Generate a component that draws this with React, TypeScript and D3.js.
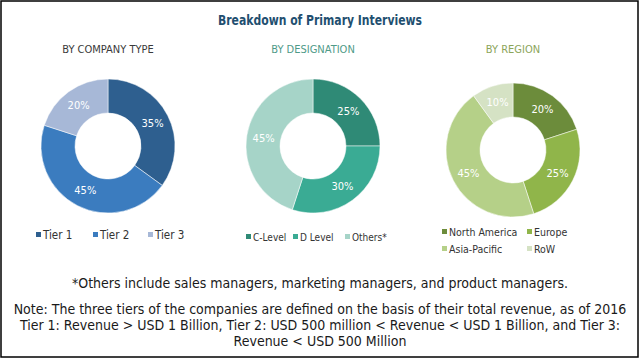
import React, { useRef, useEffect } from "react";
import * as d3 from "d3";

const companyLabels = ["Tier 1", "Tier 2", "Tier 3"];
const companyValues = [35, 45, 20];
const companyColors = ["#2e5f8f", "#3b7cbf", "#a7b8d7"];

const designationLabels = ["C-Level", "D Level", "Others*"];
const designationValues = [25, 30, 45];
const designationColors = ["#2f8a76", "#3aab94", "#a6d4c8"];

const regionLabels = ["North America", "Europe", "Asia-Pacific", "RoW"];
const regionValues = [20, 25, 45, 10];
const regionColors = ["#6c8c3b", "#90b54a", "#b5d088", "#d5e2c4"];

const title = "Breakdown of Primary Interviews";
const footnotes = [
  "*Others include sales managers, marketing managers, and product managers.",
  "Note: The three tiers of the companies are defined on the basis of their total revenue, as of 2016",
  "Tier 1: Revenue > USD 1 Billion, Tier 2: USD 500 million < Revenue < USD 1 Billion, and Tier 3:",
  "Revenue < USD 500 Million",
];

const narrow = "'DejaVu Sans Condensed', 'Liberation Sans Narrow', sans-serif";

const panels = [
  {
    heading: "BY COMPANY TYPE",
    headingColor: "#3a3a3a",
    cx: 108,
    cy: 146,
    labels: companyLabels,
    values: companyValues,
    colors: companyColors,
    legend: { y: 235, xs: [36, 93, 148], rows: [0, 0, 0], size: 11.5 },
  },
  {
    heading: "BY DESIGNATION",
    headingColor: "#4f9a88",
    cx: 313,
    cy: 146,
    labels: designationLabels,
    values: designationValues,
    colors: designationColors,
    legend: { y: 237, xs: [246, 293, 345], rows: [0, 0, 0], size: 10 },
  },
  {
    heading: "BY REGION",
    headingColor: "#8ca55a",
    cx: 513,
    cy: 150,
    labels: regionLabels,
    values: regionValues,
    colors: regionColors,
    legend: { y: 232, xs: [442, 527, 442, 527], rows: [0, 0, 1, 1], size: 10.5 },
  },
];

const App = () => {
  const svgRef = useRef(null);
  const width = 640;
  const height = 359;

  useEffect(() => {
    const svg = d3.select(svgRef.current);

    svg
      .append("rect")
      .attr("x", 1)
      .attr("y", 1)
      .attr("width", width - 3)
      .attr("height", height - 3)
      .attr("fill", "#fff")
      .attr("stroke", "#000")
      .attr("stroke-width", 1.5);

    svg
      .append("text")
      .attr("x", 320)
      .attr("y", 25)
      .attr("text-anchor", "middle")
      .attr("textLength", 204)
      .attr("lengthAdjust", "spacingAndGlyphs")
      .style("font-family", narrow)
      .style("font-weight", "bold")
      .style("font-size", "14px")
      .style("fill", "#1f4f70")
      .text(title);

    const pie = d3.pie().sort(null).value((d) => d);
    const arc = d3.arc().innerRadius(33).outerRadius(67);
    const labelArc = d3.arc().innerRadius(50).outerRadius(50);

    panels.forEach((p) => {
      svg
        .append("text")
        .attr("x", p.cx)
        .attr("y", 53)
        .attr("text-anchor", "middle")
        .style("font-family", narrow)
        .style("font-size", "11px")
        .style("fill", p.headingColor)
        .text(p.heading);

      const g = svg.append("g").attr("transform", `translate(${p.cx}, ${p.cy})`);
      const arcs = pie(p.values);

      g.selectAll("path")
        .data(arcs)
        .enter()
        .append("path")
        .attr("d", arc)
        .attr("fill", (d, i) => p.colors[i])
        .attr("stroke", "#fff")
        .attr("stroke-width", 0.5);

      g.selectAll("text")
        .data(arcs)
        .enter()
        .append("text")
        .attr("transform", (d) => `translate(${labelArc.centroid(d)})`)
        .attr("text-anchor", "middle")
        .attr("dy", "0.35em")
        .style("font-family", narrow)
        .style("font-size", "11px")
        .style("fill", "#fff")
        .text((d) => `${d.data}%`);

      p.labels.forEach((label, i) => {
        const y = p.legend.y + p.legend.rows[i] * 17;
        svg
          .append("rect")
          .attr("x", p.legend.xs[i])
          .attr("y", y - 3)
          .attr("width", 5)
          .attr("height", 5)
          .attr("fill", p.colors[i]);
        svg
          .append("text")
          .attr("x", p.legend.xs[i] + 7)
          .attr("y", y + 4)
          .style("font-family", narrow)
          .style("font-size", `${p.legend.size}px`)
          .style("fill", "#333")
          .text(label);
      });
    });

    footnotes.forEach((line, i) => {
      svg
        .append("text")
        .attr("x", 320)
        .attr("y", i === 0 ? 288 : 314 + (i - 1) * 16)
        .attr("text-anchor", "middle")
        .style("font-family", narrow)
        .style("font-size", "14px")
        .style("fill", "#1a1a1a")
        .text(line);
    });

    return () => svg.selectAll("*").remove();
  }, []);

  return (
    <div style={{ position: "absolute", left: 0, top: 0 }}>
      <svg ref={svgRef} width={width} height={height} style={{ display: "block" }}></svg>
    </div>
  );
};

export default App;
